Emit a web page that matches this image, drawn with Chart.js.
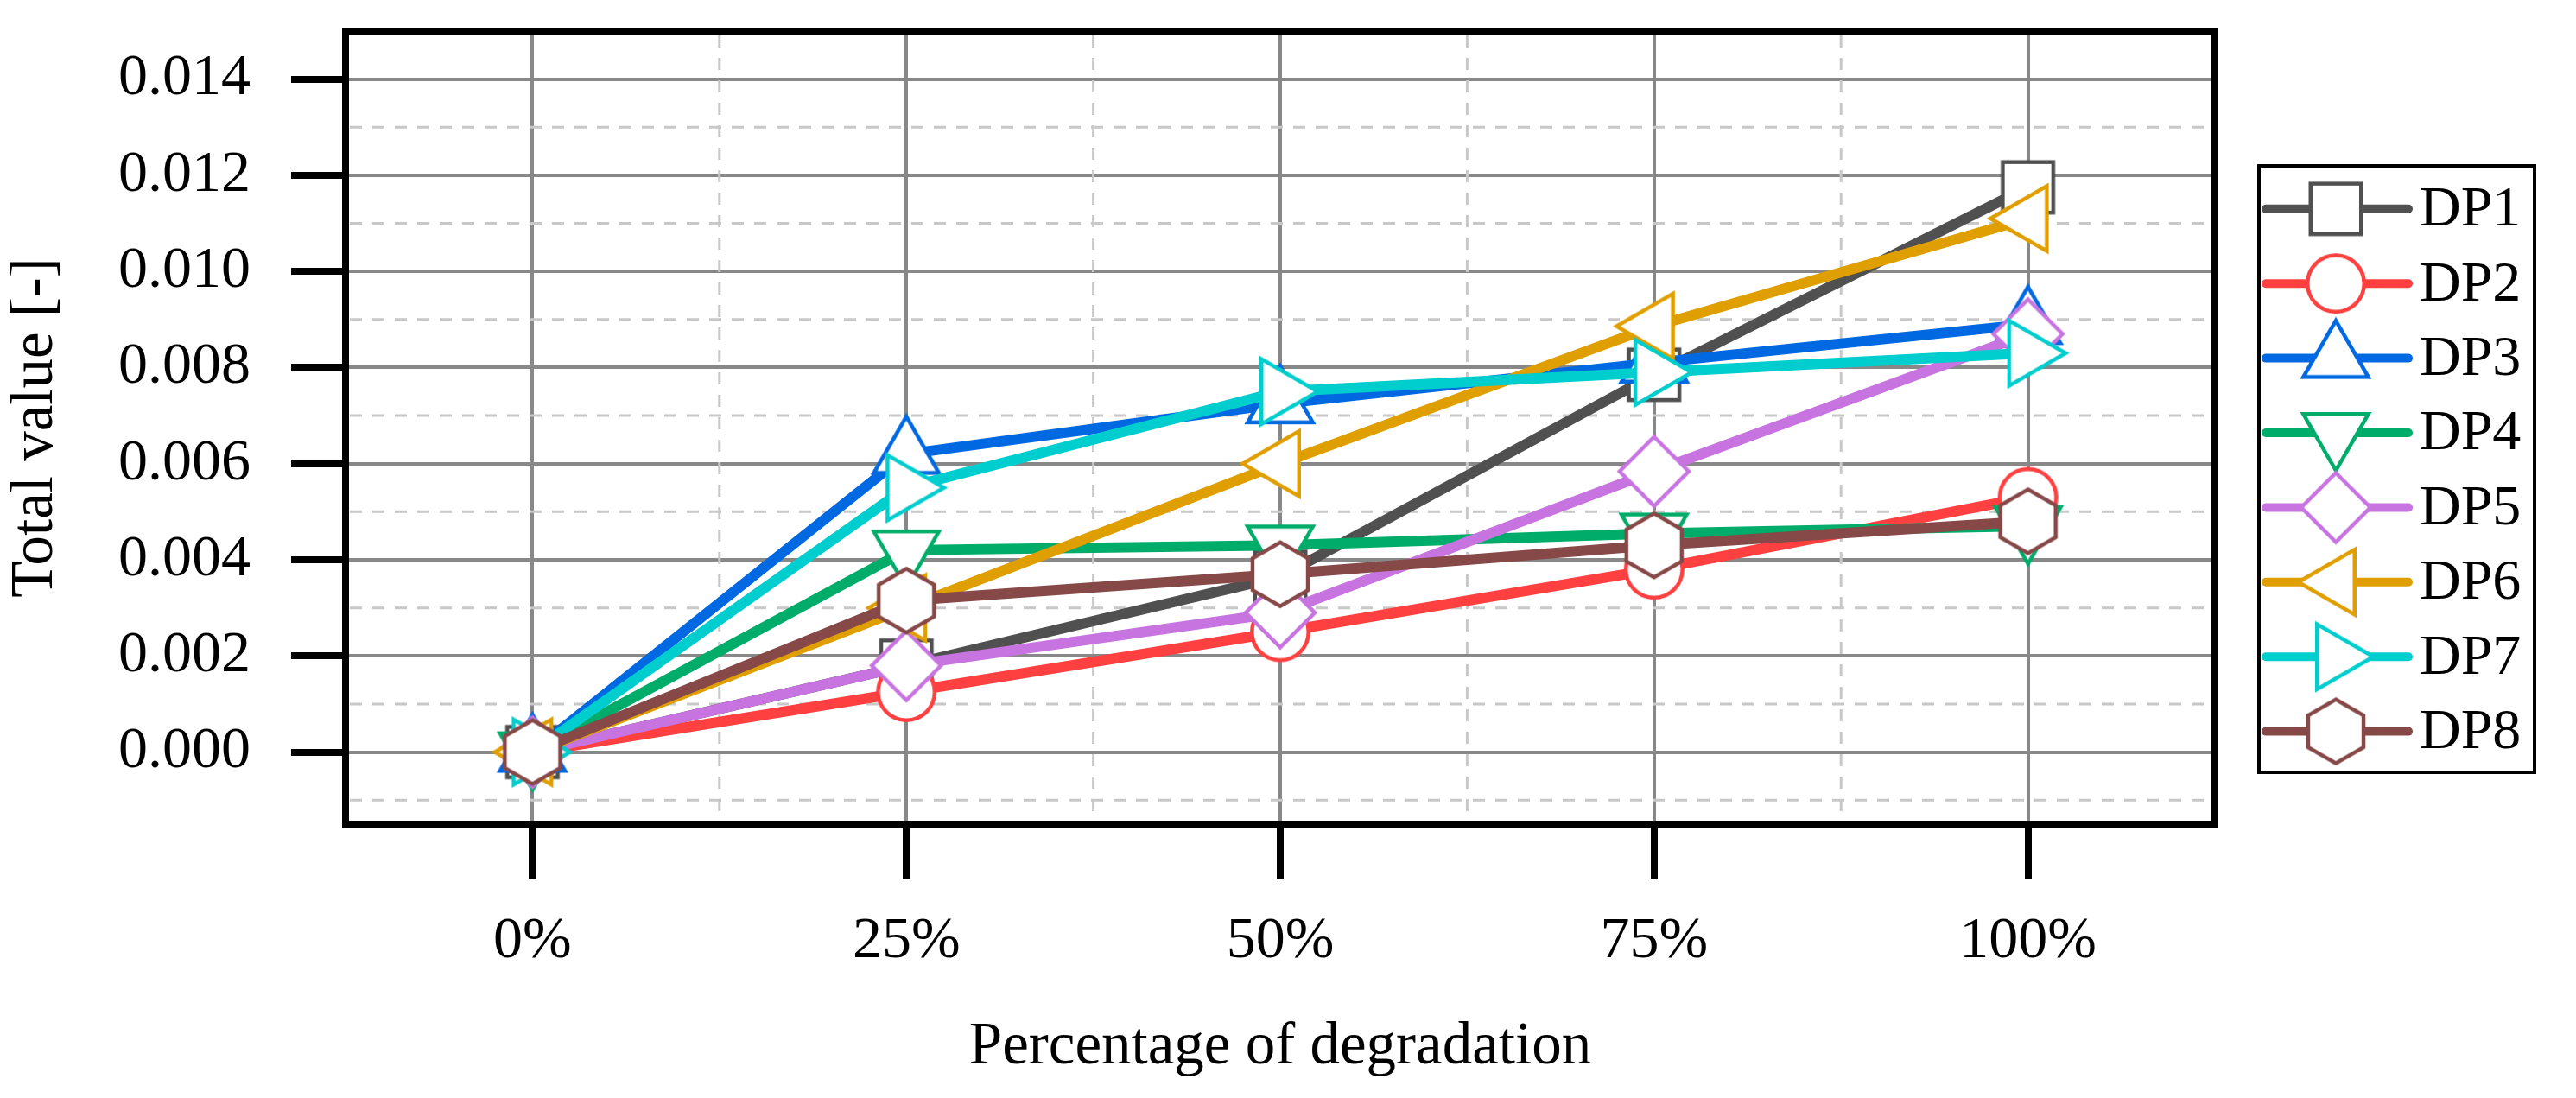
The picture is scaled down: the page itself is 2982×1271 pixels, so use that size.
<!DOCTYPE html>
<html>
<head>
<meta charset="utf-8">
<script src="https://cdn.jsdelivr.net/npm/chart.js@4.4.1/dist/chart.umd.min.js"></script>
<style>
  html, body { margin: 0; padding: 0; background: #ffffff; }
  #wrap { width: 2982px; height: 1271px; }
</style>
</head>
<body>
<div id="wrap"><canvas id="c" width="2982" height="1271"></canvas></div>
<script>
// ---- data ----
const categories = ['0%', '25%', '50%', '75%', '100%'];
const seriesNames = ['DP1', 'DP2', 'DP3', 'DP4', 'DP5', 'DP6', 'DP7', 'DP8'];
const DP1 = [0, 0.0018, 0.00365, 0.00785, 0.01175];
const DP2 = [0, 0.00125, 0.0025, 0.0038, 0.0053];
const DP3 = [0, 0.0062, 0.00725, 0.0081, 0.0089];
const DP4 = [0, 0.0042, 0.0043, 0.00455, 0.0047];
const DP5 = [0, 0.0018, 0.0029, 0.00584, 0.0087];
const DP6 = [0, 0.0030, 0.0060, 0.00886, 0.0111];
const DP7 = [0, 0.0055, 0.0075, 0.0079, 0.0083];
const DP8 = [0, 0.00315, 0.0037, 0.0043, 0.0048];
const seriesValues = [DP1, DP2, DP3, DP4, DP5, DP6, DP7, DP8];
const yMin = -0.0015, yMax = 0.015, yStep = 0.002;
const minorTicks = [-0.001, 0.001, 0.003, 0.005, 0.007, 0.009, 0.011, 0.013];

// ---- styles ----
const colors = ['#505050', '#ff4040', '#0068e0', '#00ac69', '#c774e0', '#e09f00', '#00cdcd', '#874848'];
const shapes = ['square', 'circle', 'triUp', 'triDown', 'diamond', 'triLeft', 'triRight', 'hexagon'];
const FONT = '"Liberation Serif", "Times New Roman", Times, serif';

function markerPath(ctx, shape, cx, cy) {
  ctx.beginPath();
  const T = 43.5;
  const s3 = Math.sqrt(3) / 2;
  switch (shape) {
    case 'square': ctx.rect(cx - 29.25, cy - 29.25, 58.5, 58.5); break;
    case 'circle': ctx.arc(cx, cy, 32.75, 0, Math.PI * 2); break;
    case 'triUp':
      ctx.moveTo(cx, cy - T); ctx.lineTo(cx + T * s3, cy + T / 2); ctx.lineTo(cx - T * s3, cy + T / 2); ctx.closePath(); break;
    case 'triDown':
      ctx.moveTo(cx, cy + T); ctx.lineTo(cx + T * s3, cy - T / 2); ctx.lineTo(cx - T * s3, cy - T / 2); ctx.closePath(); break;
    case 'triLeft':
      ctx.moveTo(cx - T, cy); ctx.lineTo(cx + T / 2, cy - T * s3); ctx.lineTo(cx + T / 2, cy + T * s3); ctx.closePath(); break;
    case 'triRight':
      ctx.moveTo(cx + T, cy); ctx.lineTo(cx - T / 2, cy - T * s3); ctx.lineTo(cx - T / 2, cy + T * s3); ctx.closePath(); break;
    case 'diamond':
      ctx.moveTo(cx, cy - 40); ctx.lineTo(cx + 40, cy); ctx.lineTo(cx, cy + 40); ctx.lineTo(cx - 40, cy); ctx.closePath(); break;
    case 'hexagon': {
      const R = 37;
      for (let k = 0; k < 6; k++) {
        const a = -Math.PI / 2 + k * Math.PI / 3;
        const px = cx + R * Math.cos(a), py = cy + R * Math.sin(a);
        if (k === 0) ctx.moveTo(px, py); else ctx.lineTo(px, py);
      }
      ctx.closePath(); break;
    }
  }
}
function makeMarker(shape, color) {
  const cv = document.createElement('canvas');
  cv.width = 120; cv.height = 120;
  const ctx = cv.getContext('2d');
  markerPath(ctx, shape, 60, 60);
  ctx.fillStyle = '#ffffff';
  ctx.fill();
  ctx.lineWidth = 4.5;
  ctx.lineJoin = 'miter';
  ctx.strokeStyle = color;
  ctx.stroke();
  return cv;
}
const markers = shapes.map((s, i) => makeMarker(s, colors[i]));

const datasets = seriesNames.map((name, i) => ({
  label: name,
  data: seriesValues[i],
  borderColor: colors[i],
  backgroundColor: colors[i],
  borderWidth: 12,
  tension: 0,
  fill: false,
  pointStyle: markers[i],
  pointRadius: 40,
  pointHoverRadius: 40,
  order: seriesNames.length - i,
  clip: false
}));

const deco = {
  id: 'deco',
  beforeDatasetsDraw(chart) {
    const { ctx, chartArea: a, scales: { x, y } } = chart;
    ctx.save();
    ctx.strokeStyle = '#c8c8c8';
    ctx.lineWidth = 3;
    ctx.setLineDash([14, 12]);
    // minor horizontal dashed lines
    minorTicks.forEach(v => {
      const py = y.getPixelForValue(v);
      ctx.beginPath(); ctx.moveTo(a.left + 5, py); ctx.lineTo(a.right, py); ctx.stroke();
    });
    // minor vertical dashed lines (between categories)
    for (let i = 0; i < categories.length - 1; i++) {
      const px = (x.getPixelForValue(i) + x.getPixelForValue(i + 1)) / 2;
      ctx.beginPath(); ctx.moveTo(px, a.top + 5); ctx.lineTo(px, a.bottom); ctx.stroke();
    }
    ctx.restore();
  },
  afterDraw(chart) {
    const { ctx, chartArea: a } = chart;
    ctx.save();
    // plot frame
    ctx.strokeStyle = '#000000';
    ctx.lineWidth = 8;
    ctx.strokeRect(a.left, a.top, a.right - a.left, a.bottom - a.top);
    // legend
    const bx = a.right + 51, by = 192, bw = 319, bh = 702;
    ctx.lineWidth = 4;
    ctx.strokeRect(bx, by, bw, bh);
    const y0 = 241.8, step = 86.4;
    ctx.font = '66px ' + FONT;
    ctx.textBaseline = 'middle';
    ctx.textAlign = 'left';
    ctx.fillStyle = '#000000';
    seriesNames.forEach((name, i) => {
      const yy = y0 + i * step;
      ctx.strokeStyle = colors[i];
      ctx.lineWidth = 10;
      ctx.lineCap = 'round';
      ctx.beginPath(); ctx.moveTo(bx + 8, yy); ctx.lineTo(bx + 173, yy); ctx.stroke();
      ctx.drawImage(markers[i], bx + 89 - 60, yy - 60);
      ctx.fillText(name, bx + 186, yy + 2);
    });
    ctx.restore();
  }
};

new Chart(document.getElementById('c'), {
  type: 'line',
  data: { labels: categories, datasets },
  options: {
    responsive: false,
    devicePixelRatio: 1,
    animation: false,
    events: [],
    layout: { autoPadding: false, padding: { left: 0, top: 36, right: 418, bottom: 0 } },
    plugins: { legend: { display: false }, tooltip: { enabled: false } },
    scales: {
      x: {
        type: 'category',
        offset: true,
        grid: { color: '#888888', lineWidth: 4, offset: false, tickColor: '#000000', tickWidth: 8, tickLength: 63 },
        border: { display: false },
        ticks: { color: '#000000', font: { family: FONT, size: 68 }, padding: 32, maxRotation: 0 },
        title: { display: true, text: 'Percentage of degradation', color: '#000000', font: { family: FONT, size: 69, lineHeight: 1.2 }, padding: { top: 0, bottom: 17 } },
        afterFit: s => { s.height = 317; s.paddingLeft = 0; s.paddingRight = 0; }
      },
      y: {
        type: 'linear',
        min: yMin,
        max: yMax,
        grid: { color: '#888888', lineWidth: 4, tickColor: '#000000', tickWidth: 8, tickLength: 63 },
        border: { display: false },
        ticks: { stepSize: yStep, includeBounds: false, color: '#000000', font: { family: FONT, size: 68 }, padding: 47, callback: v => Number(v).toFixed(3) },
        title: { display: true, text: 'Total value [-]', color: '#000000', font: { family: FONT, size: 69, lineHeight: 1.2 }, padding: { top: 0, bottom: 0 } },
        afterFit: s => { s.width = 400; s.paddingTop = 0; s.paddingBottom = 0; }
      }
    }
  },
  plugins: [deco]
});
</script>
</body>
</html>
